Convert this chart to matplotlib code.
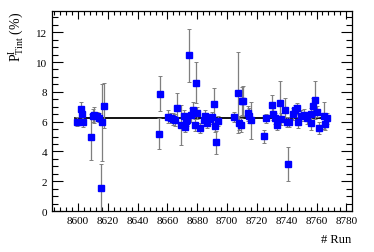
import matplotlib
matplotlib.use("Agg")
import matplotlib.pyplot as plt
from matplotlib.ticker import MultipleLocator

plt.rcParams['font.family'] = ['Liberation Serif', 'DejaVu Serif']
plt.rcParams['mathtext.fontset'] = 'custom'
plt.rcParams['mathtext.rm'] = 'Liberation Serif'
plt.rcParams['mathtext.it'] = 'Liberation Serif:italic'

# run numbers, polarisation values and their errors
runs = [8599.5, 8601.7, 8602.9, 8603.5, 8608.7, 8609.8, 8611.0, 8612.7, 8614.3, 8615.6, 8616.0, 8617.6,
        8654.4, 8655.2, 8660.4, 8662.2, 8663.6, 8664.9, 8666.3, 8669.0, 8670.9, 8672.0, 8672.5, 8673.2,
        8674.3, 8676.0, 8677.2, 8678.3, 8679.2, 8680.0, 8681.6, 8684.3, 8685.1, 8686.3, 8688.6, 8690.1,
        8691.1, 8691.9, 8692.8, 8694.1,
        8704.8, 8707.1, 8708.2, 8709.1, 8710.0, 8710.9, 8714.2, 8714.9, 8716.0,
        8724.9, 8725.8, 8729.8, 8730.9, 8732.1, 8733.6, 8735.4, 8736.1, 8738.8, 8739.9, 8741.0, 8741.6,
        8743.9, 8745.4, 8746.6, 8747.7, 8749.9, 8751.5, 8753.7, 8756.0, 8756.6, 8757.7, 8758.8, 8760.6,
        8761.7, 8764.9, 8765.8, 8766.9]
pol = [6.00, 6.85, 6.49, 5.98, 4.98, 6.40, 6.44, 6.35, 6.26, 1.56, 5.95, 7.07,
       5.18, 7.87, 6.33, 6.26, 6.17, 6.09, 6.91, 5.80, 6.40, 5.64, 6.06, 6.09,
       10.44, 6.44, 6.80, 5.79, 8.62, 6.56, 5.58, 6.08, 6.37, 5.93, 6.17, 6.31,
       7.17, 5.68, 4.60, 6.06,
       6.31, 7.95, 5.90, 5.77, 7.39, 7.39, 6.57, 6.40, 6.08,
       5.01, 6.22, 7.11, 6.53, 6.22, 5.80, 7.27, 6.15, 6.80, 5.97, 3.15, 5.97,
       6.52, 6.79, 6.89, 5.95, 6.40, 6.44, 6.22, 5.92, 6.51, 7.07, 7.45, 6.68,
       5.57, 6.40, 5.84, 6.22]
pol_err = [0.30, 0.50, 0.40, 0.35, 1.55, 0.45, 0.55, 0.30, 0.30, 1.57, 2.60, 1.50,
           1.05, 1.17, 0.45, 0.35, 0.40, 0.40, 1.00, 1.35, 0.40, 0.35, 0.40, 0.35,
           1.75, 0.45, 0.50, 0.40, 1.35, 0.40, 0.35, 0.40, 0.40, 0.35, 0.30, 0.35,
           1.07, 0.40, 0.80, 0.35,
           0.35, 2.70, 0.45, 0.45, 0.95, 1.00, 0.50, 0.50, 1.25,
           0.45, 0.30, 0.70, 0.40, 0.35, 0.35, 1.47, 0.40, 0.78, 0.35, 1.15, 0.35,
           0.40, 0.35, 0.35, 0.35, 0.35, 0.40, 0.35, 0.45, 0.40, 0.50, 1.25, 0.40,
           0.40, 0.90, 0.40, 0.35]

# constant fit
fit_value = 6.22
fit_range = [8598, 8768]

fig = plt.figure(figsize=(3.74, 2.53), dpi=100)
ax = fig.add_axes([0.139, 0.162, 0.801, 0.789])

ax.plot(fit_range, [fit_value, fit_value], color='black', lw=1.3, zorder=1)
ax.errorbar(runs, pol, yerr=pol_err, fmt='s', color='#0000ff', ms=4.2,
            ecolor='#7f7f7f', elinewidth=0.9, capsize=1.2, capthick=0.7, zorder=2)

ax.set_xlim(8582.5, 8783.5)
ax.set_ylim(0, 13.4)
ax.xaxis.set_major_locator(MultipleLocator(20))
ax.xaxis.set_minor_locator(MultipleLocator(4))
ax.yaxis.set_major_locator(MultipleLocator(2))
ax.yaxis.set_minor_locator(MultipleLocator(0.5))
ax.tick_params(which='both', direction='in', top=True, right=True, labelsize=8, width=0.8)
ax.tick_params(axis='x', which='major', length=6)
ax.tick_params(axis='x', which='minor', length=3)
ax.tick_params(axis='y', which='major', length=8)
ax.tick_params(axis='y', which='minor', length=4)
for s in ax.spines.values():
    s.set_linewidth(0.9)

ax.set_xlabel('# Run', fontsize=9, loc='right', labelpad=6)
ax.set_ylabel(r'$\mathrm{P^{I}_{Tint}}$ (%)', fontsize=10, loc='top', labelpad=7)

fig.savefig('out.png', dpi=100)
